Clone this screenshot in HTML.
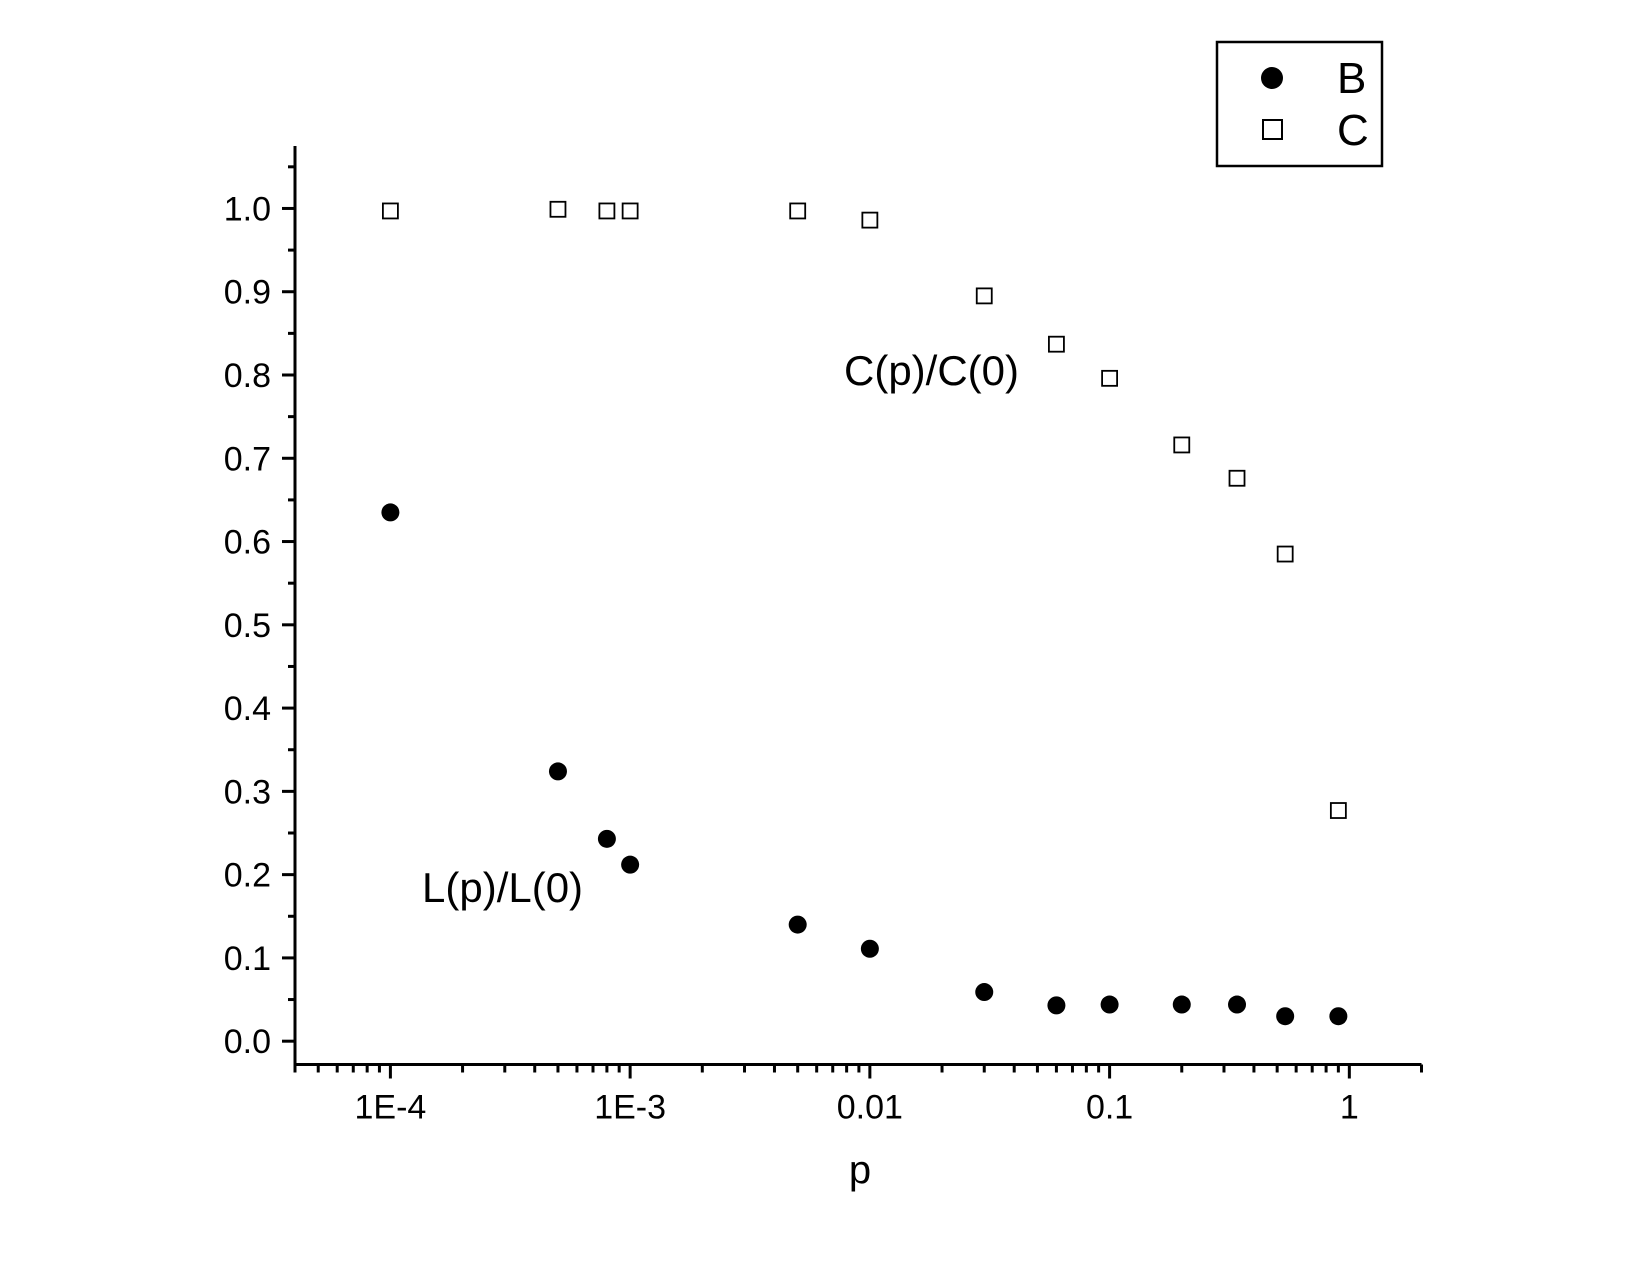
<!DOCTYPE html>
<html><head><meta charset="utf-8"><style>
html,body{margin:0;padding:0;background:#fff;}
svg{display:block;font-family:"Liberation Sans",Arial,sans-serif;}
</style></head><body>
<svg id="chart" width="1650" height="1275" viewBox="0 0 1650 1275">
<rect x="0" y="0" width="1650" height="1275" fill="#fff"/>
<g id="axes"></g>
<g id="marks"></g>
<text x="844" y="385" font-size="42">C(p)/C(0)</text>
<text x="422" y="902" font-size="42">L(p)/L(0)</text>
<text x="860" y="1183" font-size="40" text-anchor="middle">p</text>
<g>
<rect x="1217" y="42" width="165" height="124" fill="#fff" stroke="#000" stroke-width="2.5"/>
<circle cx="1272" cy="78" r="11" fill="#000"/>
<text x="1337" y="93" font-size="44">B</text>
<rect x="1263" y="120" width="19" height="19" fill="#fff" stroke="#000" stroke-width="2"/>
<text x="1337" y="145" font-size="44">C</text>
</g>
</svg>
<script>
const pValues = [1e-4, 5e-4, 8e-4, 1e-3, 5e-3, 0.01, 0.03, 0.06, 0.1, 0.2, 0.34, 0.54, 0.9];
const seriesB = [0.635, 0.324, 0.243, 0.212, 0.140, 0.111, 0.059, 0.043, 0.044, 0.044, 0.044, 0.030, 0.030];
const seriesC = [0.997, 0.999, 0.997, 0.997, 0.997, 0.986, 0.895, 0.837, 0.796, 0.716, 0.676, 0.585, 0.277];
const yTickLabels = ["0.0","0.1","0.2","0.3","0.4","0.5","0.6","0.7","0.8","0.9","1.0"];
const xTickLabels = ["1E-4","1E-3","0.01","0.1","1"];

const NS = "http://www.w3.org/2000/svg";
const X0 = 295, X1 = 1421.5, Y0 = 1064.5, Y1 = 146;
const xLogMin = Math.log10(4e-5), xLogMax = Math.log10(2);
const yMin = -0.028, yMax = 1.075;
function xs(p){ return X0 + (Math.log10(p) - xLogMin) / (xLogMax - xLogMin) * (X1 - X0); }
function ys(v){ return Y0 - (v - yMin) / (yMax - yMin) * (Y0 - Y1); }
function mk(tag, attrs, parent){ const e = document.createElementNS(NS, tag); for (const k in attrs) e.setAttribute(k, attrs[k]); parent.appendChild(e); return e; }

const axes = document.getElementById("axes");
const marks = document.getElementById("marks");
let e;
e = mk("line", {x1:X0, y1:Y0, x2:X0, y2:Y1, stroke:"#000", "stroke-width":3}, axes);


e = mk("line", {x1:X0-1.5, y1:Y0, x2:X1, y2:Y0, stroke:"#000", "stroke-width":3}, axes);



for (let i = 0; i <= 21; i++) {
  const v = i * 0.05; const y = ys(v); const major = i % 2 === 0;
  mk("line", {x1:X0 - (major ? 13 : 7), y1:y, x2:X0, y2:y, stroke:"#000", "stroke-width":3}, axes);
}
yTickLabels.forEach((lab, i) => {
  e = mk("text", {x:X0 - 24, y:ys(i * 0.1) + 12, "font-size":34, "text-anchor":"end"}, axes);
  e.textContent = lab;
  
  
});
for (let d = -5; d <= 0; d++) {
  for (let m = 1; m <= 9; m++) {
    const p = m * Math.pow(10, d);
    if (p < 4e-5 || p > 2) continue;
    const x = xs(p); const major = m === 1;
    mk("line", {x1:x, y1:Y0, x2:x, y2:Y0 + (major ? 14 : 8), stroke:"#000", "stroke-width":3}, axes);
  }
}
mk("line", {x1:xs(2), y1:Y0, x2:xs(2), y2:Y0 + 8, stroke:"#000", "stroke-width":3}, axes);
xTickLabels.forEach((lab, i) => {
  e = mk("text", {x:xs(Math.pow(10, i - 4)), y:Y0 + 54, "font-size":34, "text-anchor":"middle"}, axes);
  e.textContent = lab;
  
  
});

pValues.forEach((p, i) => {
  e = mk("circle", {cx:xs(p), cy:ys(seriesB[i]), r:9, fill:"#000"}, marks);
  
  
  e = mk("rect", {x:xs(p) - 7.5, y:ys(seriesC[i]) - 7.5, width:15, height:15, fill:"#fff", stroke:"#000", "stroke-width":1.8}, marks);
  
  
});
</script>
</body></html>
